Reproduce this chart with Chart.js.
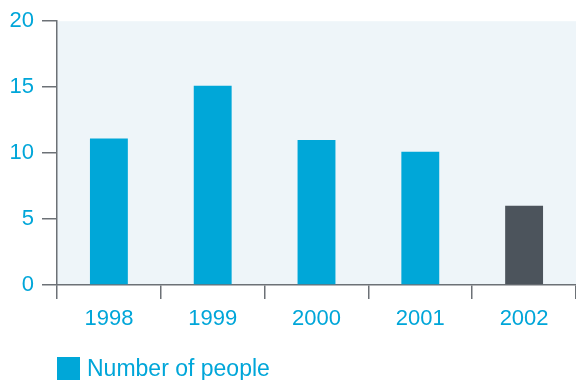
<!DOCTYPE html>
<html><head><meta charset="utf-8">
<script src="https://cdn.jsdelivr.net/npm/chart.js@4/dist/chart.umd.min.js"></script>
<style>
html,body{margin:0;padding:0;background:#fff;}
#wrap{position:relative;width:576px;height:380px;}
#legend{position:absolute;left:57px;top:357px;height:23px;display:flex;align-items:center;font-family:"Liberation Sans",Arial,sans-serif;font-size:23px;color:#00a6d9;}
#legend span.box{display:inline-block;width:23px;height:23px;background:#00a7d8;margin-right:7px;}
</style></head>
<body>
<div id="wrap"><canvas id="c" width="576" height="380"></canvas><div id="legend"></div></div>
<script>
const categories = ["1998","1999","2000","2001","2002"];
const seriesLabel = "Number of people";
const values = [11.1, 15.1, 11.0, 10.1, 6.0];
const barColors = ["#00a7d8","#00a7d8","#00a7d8","#00a7d8","#4c545c"];
const yTicks = [0,5,10,15,20];

const textColor = "#00a6d9";
const axisColor = "#6c7176";
const font = {family:"Liberation Sans, Arial, sans-serif", size:22};

const bgPlugin = {
  id:'bg',
  beforeDraw(chart){
    const {ctx, chartArea:a} = chart;
    ctx.save();
    ctx.fillStyle = "#eef5f9";
    ctx.fillRect(a.left, a.top, a.right-a.left, a.bottom-a.top);
    ctx.restore();
  }
};

document.getElementById('legend').innerHTML = '<span class="box"></span>' + seriesLabel;

new Chart(document.getElementById('c'), {
  type:'bar',
  data:{labels:categories, datasets:[{label:seriesLabel, data:values, backgroundColor:barColors, borderWidth:0, barPercentage:0.365, categoryPercentage:1}]},
  options:{
    responsive:false, animation:false,
    layout:{padding:{top:20,right:0,bottom:0,left:0}},
    plugins:{legend:{display:false}, tooltip:{enabled:false}},
    scales:{
      x:{
        grid:{display:true, drawOnChartArea:false, drawTicks:true, tickLength:14, color:axisColor, lineWidth:1.5, offset:true},
        border:{display:true, color:axisColor, width:1.5},
        ticks:{color:textColor, font:font, padding:7},
        afterFit(s){ s.height = 95; }
      },
      y:{
        min:0, max:20,
        afterBuildTicks(s){ s.ticks = yTicks.map(v=>({value:v})); },
        grid:{display:true, drawOnChartArea:false, drawTicks:true, tickLength:15, color:axisColor, lineWidth:1.5},
        border:{display:true, color:axisColor, width:1.5},
        ticks:{color:textColor, font:font, padding:8},
        afterFit(s){ s.width = 57; }
      }
    }
  },
  plugins:[bgPlugin]
});
</script>
</body></html>
